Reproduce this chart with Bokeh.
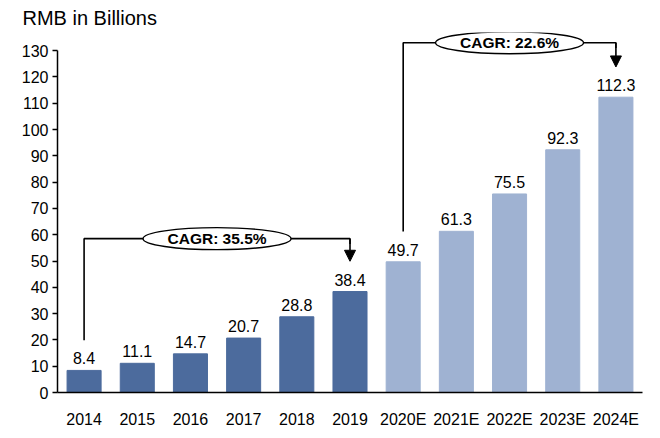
from bokeh.plotting import figure
from bokeh.models import Range1d, FixedTicker, Arrow, NormalHead, ColumnDataSource
from bokeh.embed import file_html
from bokeh.resources import INLINE
from bokeh.core.properties import value

# ---- data ----
years = ["2014", "2015", "2016", "2017", "2018", "2019",
         "2020E", "2021E", "2022E", "2023E", "2024E"]
values = [8.4, 11.1, 14.7, 20.7, 28.8, 38.4, 49.7, 61.3, 75.5, 92.3, 112.3]
value_labels = ["8.4", "11.1", "14.7", "20.7", "28.8", "38.4",
                "49.7", "61.3", "75.5", "92.3", "112.3"]
is_forecast = [False] * 6 + [True] * 5
y_ticks = list(range(0, 131, 10))
cagr_labels = ["CAGR: 35.5%", "CAGR: 22.6%"]
cagr_from = [0, 6]
cagr_to = [5, 10]
cagr_level = [58.5, 133.0]

DARK = "#4c6b9d"
LIGHT = "#9fb2d2"
FONT = "Liberation Sans"

xs = [i + 0.5 for i in range(len(years))]
colors = [LIGHT if f else DARK for f in is_forecast]

p = figure(width=652, height=430, output_backend="svg", toolbar_location=None,
           x_range=Range1d(0, len(years)), y_range=Range1d(0, 136.9))
p.min_border_left = 57
p.min_border_right = 10
p.min_border_bottom = 38
p.min_border_top = 0
p.outline_line_color = None
p.background_fill_color = "white"
p.border_fill_color = "white"
p.grid.visible = False

p.title.text = "RMB in Billions"
p.title.text_font = FONT
p.title.text_font_size = "20px"
p.title.text_font_style = "normal"
p.title.text_color = "black"
p.title.align = "left"
p.title.offset = -35
p.title.standoff = 8

src = ColumnDataSource(dict(x=xs, top=values, color=colors, lbl=value_labels))
p.vbar(x="x", top="top", width=0.64, bottom=0, color="color", source=src)
p.text(x="x", y="top", text="lbl", source=src, text_align="center",
       text_baseline="bottom", y_offset=-6, text_font=value(FONT),
       text_font_size="16px", text_color="black")

# CAGR brackets
for lab, a, b, lvl in zip(cagr_labels, cagr_from, cagr_to, cagr_level):
    xa, xb = xs[a], xs[b]
    start = values[a] + 11.5
    tip = values[b] + 11.5
    p.line([xa, xa, xb, xb], [start, lvl, lvl, lvl - 2], line_color="black", line_width=1.6)
    p.add_layout(Arrow(end=NormalHead(size=11, fill_color="black", line_color="black"),
                       x_start=xb, y_start=lvl, x_end=xb, y_end=tip,
                       line_color="black", line_width=1.6))
    xm = (xa + xb) / 2
    p.ellipse(x=[xm], y=[lvl], width=148, height=22, width_units="screen",
              height_units="screen", fill_color="white", line_color="black", line_width=1.4)
    p.text(x=[xm], y=[lvl], text=[lab], text_align="center", text_baseline="middle",
           text_font=value(FONT), text_font_size="15.5px", text_font_style="bold",
           text_color="black")

# axes
p.xaxis.ticker = FixedTicker(ticks=xs)
p.xaxis.major_label_overrides = {x: y for x, y in zip(xs, years)}
p.xaxis.major_tick_line_color = None
p.xaxis.minor_tick_line_color = None
p.xaxis.major_label_standoff = 12
p.xaxis.axis_line_width = 1.5
p.xaxis.axis_line_color = "black"

p.yaxis.ticker = FixedTicker(ticks=y_ticks)
p.yaxis.bounds = (0, 130)
p.yaxis.minor_tick_line_color = None
p.yaxis.major_tick_in = 0
p.yaxis.major_tick_out = 5
p.yaxis.major_tick_line_width = 1.5
p.yaxis.major_label_standoff = 4
p.yaxis.axis_line_width = 1.5
p.yaxis.axis_line_color = "black"

for ax in (p.xaxis, p.yaxis):
    ax.major_label_text_font = FONT
    ax.major_label_text_font_size = "16px"
    ax.major_label_text_color = "black"

open("out.html", "w").write(file_html(p, INLINE))
